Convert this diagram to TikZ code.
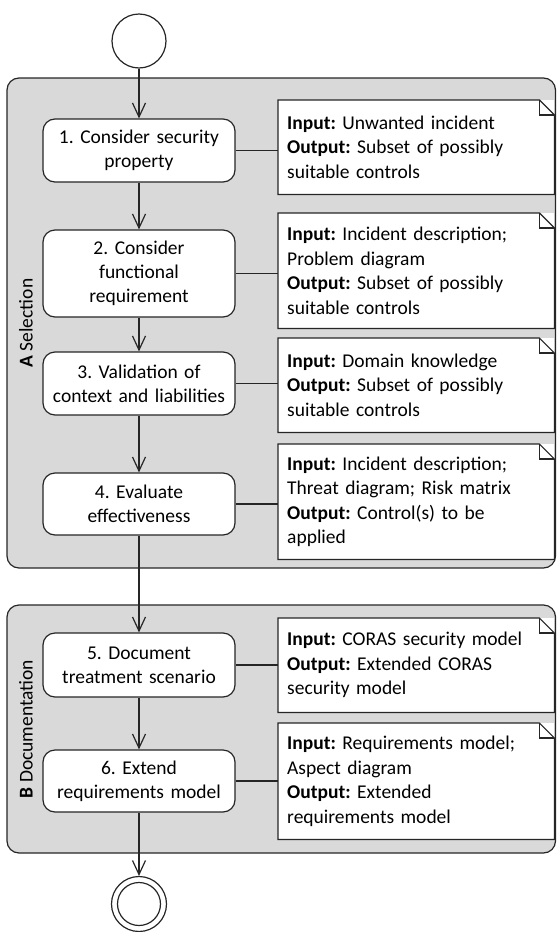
\documentclass[tikz,border=0pt]{standalone}
\usepackage{fontspec}
\setmainfont{Carlito}
\usetikzlibrary{arrows.meta}
\definecolor{lanefill}{RGB}{217,217,217}
\definecolor{ink}{RGB}{38,38,38}
\newcommand{\diagfont}{\fontsize{19.5}{24.5}\selectfont}
\frenchspacing
\hyphenpenalty=10000
\begin{document}
\begin{tikzpicture}[x=1pt,y=-1pt,
  lane/.style={draw=ink, line width=1.2pt, fill=lanefill, rounded corners=12pt},
  lanelabel/.style={rotate=90, font=\diagfont, inner sep=0pt},
  activity/.style={draw=ink, line width=1.2pt, fill=white, rounded corners=12pt,
    minimum width=192pt, text width=188pt, align=center, inner sep=2pt,
    font=\fontsize{19.5}{24}\selectfont},
  note/.style={fill=white, minimum width=276pt, text width=258pt, inner sep=9pt,
    align=left, anchor=north west, font=\diagfont},
  noteline/.style={draw=ink, line width=1.2pt, line join=miter},
  flow/.style={draw=ink, line width=1.2pt,
    -{Straight Barb[length=14pt,width=13pt,line width=1.2pt]}},
  link/.style={draw=ink, line width=1.2pt},
  state/.style={circle, draw=ink, line width=1.2pt, fill=white, inner sep=0pt}
]
\useasboundingbox (0,0) rectangle (557,932);

% swimlanes
\path[lane] (7,78) rectangle (555.5,568);
\path[lane] (7,605) rectangle (555.5,853);
\node[lanelabel] (labA) at (26,323) {\textbf{A} Selection};
\node[lanelabel] (labB) at (26,729) {\textbf{B} Documentation};

% initial and final states
\node[state, minimum size=54pt] (start) at (139,41) {};
\node[state, minimum size=55pt] (end) at (139,904) {};
\node[state, minimum size=43pt] (endin) at (139,904) {};

% activities
\node[activity, minimum height=63pt] (a1) at (139,150.5) {1. Consider security\\ property};
\node[activity, minimum height=87pt] (a2) at (139,273.5) {2. Consider\\ functional\\ requirement};
\node[activity, minimum height=63pt] (a3) at (139,383.5) {3. Validation of\\ context and liabilities};
\node[activity, minimum height=62pt] (a4) at (139,504) {4. Evaluate\\ effectiveness};
\node[activity, minimum height=64pt] (a5) at (139,665) {5. Document\\ treatment scenario};
\node[activity, minimum height=62pt] (a6) at (139,781) {6. Extend\\ requirements model};

% notes
\node[note, minimum height=94pt] (n1) at (278,100)
  {\textbf{Input:} Unwanted incident\\ \textbf{Output:} Subset of possibly\\ suitable controls};
\node[note, minimum height=115pt] (n2) at (278,213)
  {\textbf{Input:} Incident description;\\ Problem diagram\\ \textbf{Output:} Subset of possibly\\ suitable controls};
\node[note, minimum height=94pt] (n3) at (278,338)
  {\textbf{Input:} Domain knowledge\\ \textbf{Output:} Subset of possibly\\ suitable controls};
\node[note, minimum height=115pt] (n4) at (278,444)
  {\textbf{Input:} Incident description;\\ Threat diagram; Risk matrix\\ \textbf{Output:} Control(s) to be\\ applied};
\node[note, minimum height=94pt] (n5) at (278,618)
  {\textbf{Input:} CORAS security model\\ \textbf{Output:} Extended CORAS\\ security model};
\node[note, minimum height=116pt] (n6) at (278,723)
  {\textbf{Input:} Requirements model;\\ Aspect diagram\\ \textbf{Output:} Extended\\ requirements model};

% note outlines with folded corner
\foreach \n in {n1,n2,n3,n4,n5,n6} {
  \draw[noteline] (\n.north west) -- ([xshift=-15pt]\n.north east)
    -- ([yshift=-15pt]\n.north east) -- (\n.south east) -- (\n.south west) -- cycle;
  \draw[noteline] ([xshift=-15pt]\n.north east) |- ([yshift=-15pt]\n.north east);
}

% control flow
\draw[flow] (start) -- (a1);
\draw[flow] (a1) -- (a2);
\draw[flow] (a2) -- (a3);
\draw[flow] (a3) -- (a4);
\draw[flow] (a4) -- (a5);
\draw[flow] (a5) -- (a6);
\draw[flow] (a6) -- (end);

% links to notes
\foreach \a/\n in {a1/n1,a2/n2,a3/n3,a4/n4,a5/n5,a6/n6}
  \draw[link] (\a.east) -- (\a.east -| \n.west);
\end{tikzpicture}
\end{document}
